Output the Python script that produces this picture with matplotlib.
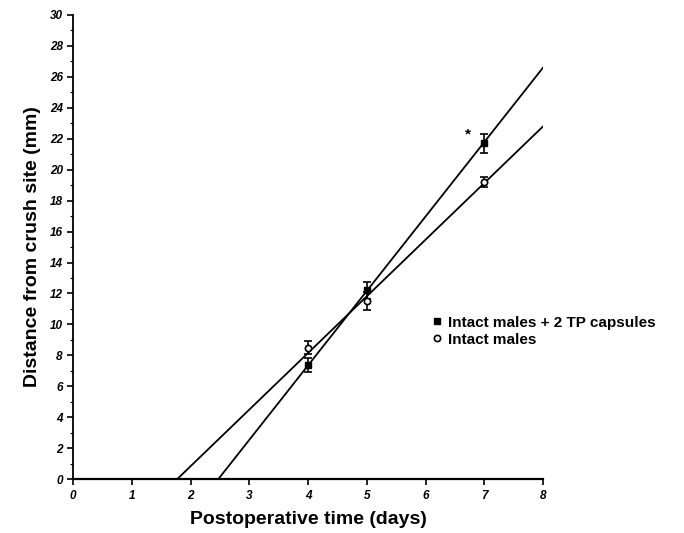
import numpy as np
import matplotlib
matplotlib.use("Agg")
import matplotlib.pyplot as plt
from matplotlib.lines import Line2D

days = [4, 5, 7]
tp_mean = [7.4, 12.2, 21.7]   # intact males + 2 TP capsules
tp_err = [0.45, 0.55, 0.6]
ctl_mean = [8.5, 11.5, 19.2]  # intact males
ctl_err = [0.4, 0.6, 0.35]

# regression lines: zero until the x-intercept, then straight up to day 8
tp_line_x = [0, 2.47, 8]
tp_line_y = [0, 0, 26.6]
ctl_line_x = [0, 1.77, 8]
ctl_line_y = [0, 0, 22.8]

labels = ['Intact males + 2 TP capsules', 'Intact males']

plt.rcParams['font.family'] = ['Liberation Sans', 'DejaVu Sans']

fig = plt.figure(figsize=(6.84, 5.33), dpi=100)
ax = fig.add_axes([0.107, 0.101, 0.687, 0.871])

ax.plot(tp_line_x, tp_line_y, color='black', lw=1.3)
ax.plot(ctl_line_x, ctl_line_y, color='black', lw=1.3)

ax.errorbar(days, tp_mean, yerr=tp_err, fmt='s', color='black', ms=5,
            capsize=3, elinewidth=1.2, capthick=1.2, zorder=3)
ax.errorbar(days, ctl_mean, yerr=ctl_err, fmt='o', color='black', mfc='white',
            ms=4.5, mew=1.2, capsize=3, elinewidth=1.2, capthick=1.2, zorder=3)

ax.text(6.72, 22.0, '*', fontsize=11, fontweight='bold', ha='center')

ax.set_xlim(0, 8)
ax.set_ylim(0, 30)
ax.set_xticks(np.arange(0, 9, 1))
ax.set_yticks(np.arange(0, 31, 2))
ax.set_yticks(np.arange(1, 30, 2), minor=True)
ax.tick_params(axis='both', which='major', direction='out', length=4, width=1.2,
               labelsize=8.5)
ax.tick_params(axis='y', which='minor', length=2, width=0.8)
for lab in ax.get_xticklabels() + ax.get_yticklabels():
    lab.set_fontweight('bold')
    lab.set_fontstyle('italic')

ax.spines['top'].set_visible(False)
ax.spines['right'].set_visible(False)
ax.spines['left'].set_linewidth(1.3)
ax.spines['bottom'].set_linewidth(1.6)

ax.set_xlabel('Postoperative time (days)', fontsize=14, fontweight='bold', labelpad=7)
ax.set_ylabel('Distance from crush site (mm)', fontsize=14, fontweight='bold', labelpad=6)

handles = [Line2D([], [], ls='none', marker='s', color='black', ms=5),
           Line2D([], [], ls='none', marker='o', color='black', mfc='white', ms=4.5, mew=1.2)]
ax.legend(handles, labels, loc='upper left', bbox_to_anchor=(0.735, 0.375), frameon=False,
          handletextpad=0.2, handlelength=1.0, borderpad=0.2, labelspacing=0.2,
          prop={'weight': 'bold', 'size': 11})

plt.savefig('out.png', dpi=100)
